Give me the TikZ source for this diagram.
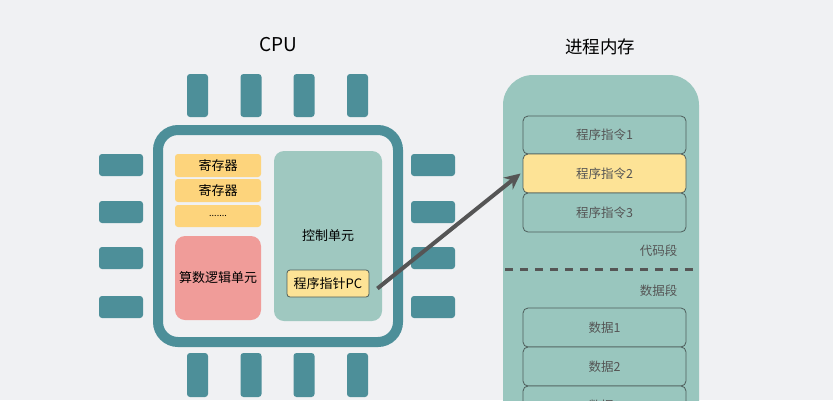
\documentclass[tikz,border=0pt]{standalone}
\usepackage{fontspec}
\setmainfont{Noto Sans CJK SC}
\usetikzlibrary{arrows.meta}

\definecolor{bg}{HTML}{F0F1F3}
\definecolor{chipteal}{HTML}{4D8F99}
\definecolor{mem}{HTML}{99C6BE}
\definecolor{ctrl}{HTML}{9FC8C0}
\definecolor{reg}{HTML}{FDD47C}
\definecolor{alu}{HTML}{F09C99}
\definecolor{hl}{HTML}{FDE396}
\definecolor{edge}{HTML}{4E5E5B}
\definecolor{txt}{HTML}{555555}

\begin{document}
\begin{tikzpicture}[x=1pt,y=-1pt,
    pinbox/.style={fill=chipteal,rounded corners=3pt},
    regbox/.style={fill=reg,rounded corners=3pt,minimum width=86pt,inner sep=0pt,
        font=\fontsize{13}{15}\selectfont},
    cellbox/.style={draw=edge,line width=0.8pt,fill=mem,rounded corners=5pt,
        minimum width=163pt,minimum height=39pt,inner sep=0pt,text=txt,
        font=\fontsize{12.5}{15}\selectfont},
    title/.style={font=\fontsize{19}{22}\selectfont}]
    \useasboundingbox (0,0) rectangle (833,400);
    \clip (0,0) rectangle (833,400);
    \fill[bg] (0,0) rectangle (833,400);

    % titles
    \node[title] (cputitle) at (278,45) {CPU};
    \node[title,font=\fontsize{17.5}{21}\selectfont] (memtitle) at (600,47) {进程内存};

    % pins of the chip
    \foreach \x in {187,240.5,293.5,347} {
        \fill[pinbox] (\x,74) rectangle ++(21,43);
        \fill[pinbox] (\x,353) rectangle ++(21,44);
    }
    \foreach \y in {165,212,258,307} {
        \fill[pinbox] (99,\y-11) rectangle (143,\y+11);
        \fill[pinbox] (411,\y-11) rectangle (455,\y+11);
    }

    % chip body
    \draw[draw=chipteal,line width=10pt,fill=bg,rounded corners=20pt] (158,130) rectangle (398,342);

    \node[regbox,minimum height=23pt] (reg1) at (218,165.5) {寄存器};
    \node[regbox,minimum height=23pt] (reg2) at (218,190.5) {寄存器};
    \node[regbox,minimum height=22pt] (regdots) at (218,216) {\raisebox{1pt}{\fontsize{9}{10}\selectfont .......}};
    \node[regbox,fill=alu,rounded corners=10pt,minimum height=84pt] (alu) at (218,278) {算数逻辑单元};
    \node[fill=ctrl,rounded corners=10pt,minimum width=108pt,minimum height=170pt,inner sep=0pt,
        font=\fontsize{13}{15}\selectfont] (ctrl) at (328,236) {控制单元};
    \node[draw=edge,line width=0.8pt,fill=hl,rounded corners=3pt,minimum width=82pt,
        minimum height=27pt,inner sep=0pt,font=\fontsize{13}{15}\selectfont] (pc) at (328,283.5) {程序指针PC};

    % process memory
    \fill[mem,rounded corners=30pt] (503,75) rectangle (699,440);
    \node[cellbox,minimum height=38pt] (ins1) at (604.5,135) {程序指令1};
    \node[cellbox,fill=hl] (ins2) at (604.5,173.5) {程序指令2};
    \node[cellbox] (ins3) at (604.5,212.5) {程序指令3};
    \node[text=txt,anchor=east,font=\fontsize{12.5}{15}\selectfont] (code) at (681,251) {代码段};
    \draw[txt,line width=3pt,dash pattern=on 8pt off 7pt] (505,269) -- (699,269);
    \node[text=txt,anchor=east,font=\fontsize{12.5}{15}\selectfont] (data) at (681,291) {数据段};
    \node[cellbox] (dat1) at (604.5,327.5) {数据1};
    \node[cellbox] (dat2) at (604.5,366.5) {数据2};
    \node[cellbox] (dat3) at (604.5,405.5) {数据3};

    % pc points at the current instruction
    \draw[txt,line width=4pt,-{Stealth[length=16pt,width=15pt]}] ([xshift=8pt,yshift=-5pt]pc.east) -- ([xshift=-2pt]ins2.west);
\end{tikzpicture}
\end{document}
